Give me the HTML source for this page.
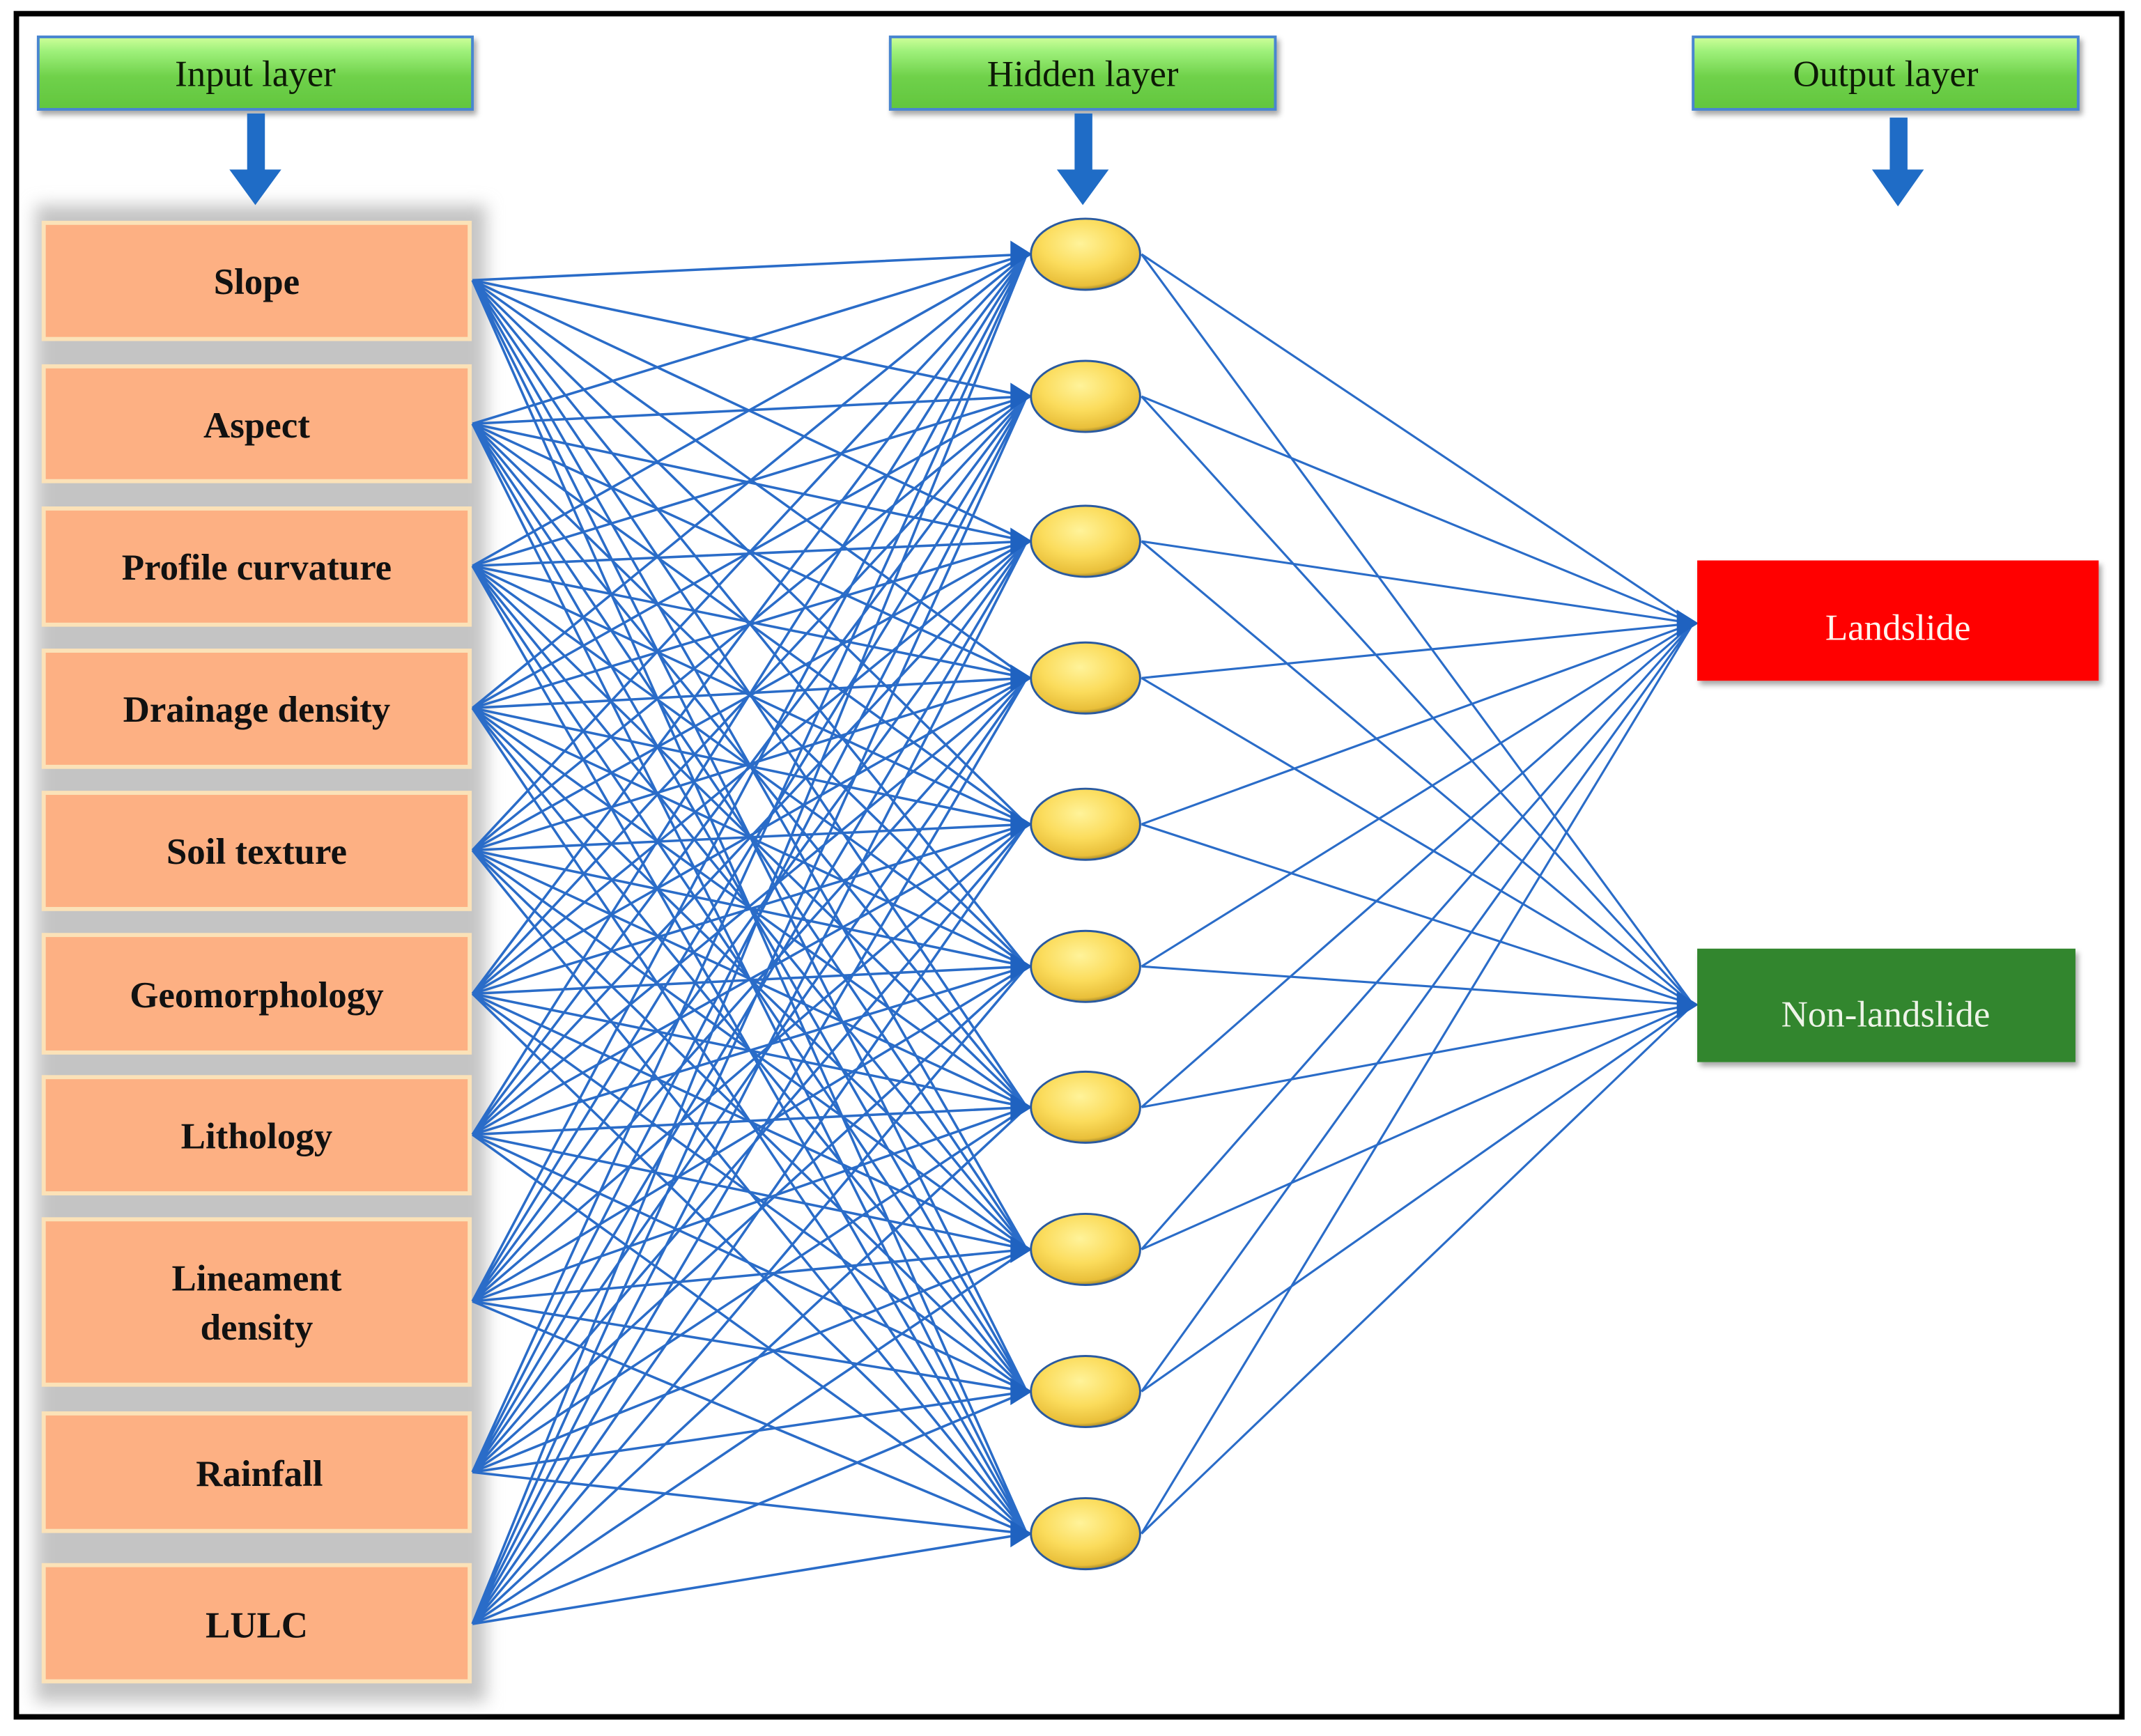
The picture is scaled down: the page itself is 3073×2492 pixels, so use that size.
<!DOCTYPE html>
<html><head><meta charset="utf-8"><style>
html,body{margin:0;padding:0;background:#fff;}
svg{display:block;}
text{font-family:"Liberation Serif",serif;font-weight:bold;}
text.n{font-weight:normal;}
</style></head><body>
<svg width="3073" height="2492" viewBox="0 0 1568 1270" preserveAspectRatio="none" xmlns="http://www.w3.org/2000/svg">
<defs>
<linearGradient id="gr" x1="0" y1="0" x2="0" y2="1"><stop offset="0" stop-color="#cfff9a"/><stop offset="0.2" stop-color="#9ef07a"/><stop offset="0.55" stop-color="#6fd14a"/><stop offset="1" stop-color="#62c63e"/></linearGradient>
<radialGradient id="yl" cx="0.45" cy="0.35" r="0.7"><stop offset="0" stop-color="#fff39a"/><stop offset="0.5" stop-color="#fbdc5c"/><stop offset="0.85" stop-color="#e9bf3a"/><stop offset="1" stop-color="#6a5a20"/></radialGradient>
<filter id="bl" x="-20%" y="-20%" width="140%" height="140%"><feGaussianBlur stdDeviation="6"/></filter>
<filter id="sh" x="-10%" y="-10%" width="130%" height="140%"><feDropShadow dx="2" dy="3" stdDeviation="2" flood-color="#000" flood-opacity="0.35"/></filter>
</defs>
<rect x="0" y="0" width="1568" height="1270" fill="#fff"/>
<rect x="12" y="10" width="1542" height="1246" fill="#fff" stroke="#000" stroke-width="4"/>

<rect x="26" y="150" width="330" height="1095" fill="#c4c4c4" filter="url(#bl)"/>

<g filter="url(#sh)">
<rect x="28" y="27" width="318" height="53" fill="url(#gr)" stroke="#4a86d0" stroke-width="2"/>
<rect x="652" y="27" width="282" height="53" fill="url(#gr)" stroke="#4a86d0" stroke-width="2"/>
<rect x="1240" y="27" width="282" height="53" fill="url(#gr)" stroke="#4a86d0" stroke-width="2"/>
</g>
<text class="n" x="187" y="63" font-size="27" text-anchor="middle" fill="#0d1a06">Input layer</text>
<text class="n" x="793" y="63" font-size="27" text-anchor="middle" fill="#0d1a06">Hidden layer</text>
<text class="n" x="1381" y="63" font-size="27" text-anchor="middle" fill="#0d1a06">Output layer</text>

<g fill="#1f6cc6">
<path d="M181 83h13v41h12l-19 26-19-26h13z"/>
<path d="M787 83h13v41h12l-19 26-19-26h13z"/>
<path d="M1384 86h13v38h12l-19 27-19-27h13z"/>
</g>

<g fill="#fdb083" stroke="#fbe2b8" stroke-width="3">
<rect x="32" y="163" width="312" height="85"/>
<rect x="32" y="268" width="312" height="84"/>
<rect x="32" y="372" width="312" height="85"/>
<rect x="32" y="476" width="312" height="85"/>
<rect x="32" y="580" width="312" height="85"/>
<rect x="32" y="684" width="312" height="86"/>
<rect x="32" y="788" width="312" height="85"/>
<rect x="32" y="892" width="312" height="121"/>
<rect x="32" y="1034" width="312" height="86"/>
<rect x="32" y="1145" width="312" height="85"/>
</g>
<g font-size="27" text-anchor="middle" fill="#111">
<text x="188" y="215">Slope</text>
<text x="188" y="320">Aspect</text>
<text x="188" y="424">Profile curvature</text>
<text x="188" y="528">Drainage density</text>
<text x="188" y="632">Soil texture</text>
<text x="188" y="737">Geomorphology</text>
<text x="188" y="840">Lithology</text>
<text x="188" y="944">Lineament</text>
<text x="188" y="980">density</text>
<text x="190" y="1087">Rainfall</text>
<text x="188" y="1198">LULC</text>
</g>

<path fill="none" stroke="#2a6cc8" stroke-width="1.8" d="
M346 205L752 186M346 205L752 290M346 205L752 396M346 205L752 496M346 205L752 603M346 205L752 707M346 205L752 810M346 205L752 914M346 205L752 1018M346 205L752 1122
M346 310L752 186M346 310L752 290M346 310L752 396M346 310L752 496M346 310L752 603M346 310L752 707M346 310L752 810M346 310L752 914M346 310L752 1018M346 310L752 1122
M346 414L752 186M346 414L752 290M346 414L752 396M346 414L752 496M346 414L752 603M346 414L752 707M346 414L752 810M346 414L752 914M346 414L752 1018M346 414L752 1122
M346 518L752 186M346 518L752 290M346 518L752 396M346 518L752 496M346 518L752 603M346 518L752 707M346 518L752 810M346 518L752 914M346 518L752 1018M346 518L752 1122
M346 622L752 186M346 622L752 290M346 622L752 396M346 622L752 496M346 622L752 603M346 622L752 707M346 622L752 810M346 622L752 914M346 622L752 1018M346 622L752 1122
M346 727L752 186M346 727L752 290M346 727L752 396M346 727L752 496M346 727L752 603M346 727L752 707M346 727L752 810M346 727L752 914M346 727L752 1018M346 727L752 1122
M346 830L752 186M346 830L752 290M346 830L752 396M346 830L752 496M346 830L752 603M346 830L752 707M346 830L752 810M346 830L752 914M346 830L752 1018M346 830L752 1122
M346 952L752 186M346 952L752 290M346 952L752 396M346 952L752 496M346 952L752 603M346 952L752 707M346 952L752 810M346 952L752 914M346 952L752 1018M346 952L752 1122
M346 1077L752 186M346 1077L752 290M346 1077L752 396M346 1077L752 496M346 1077L752 603M346 1077L752 707M346 1077L752 810M346 1077L752 914M346 1077L752 1018M346 1077L752 1122
M346 1188L752 186M346 1188L752 290M346 1188L752 396M346 1188L752 496M346 1188L752 603M346 1188L752 707M346 1188L752 810M346 1188L752 914M346 1188L752 1018M346 1188L752 1122
"/>

<path fill="none" stroke="#2a6cc8" stroke-width="1.6" d="
M836 186L1240 456M836 290L1240 456M836 396L1240 456M836 496L1240 456M836 603L1240 456M836 707L1240 456M836 810L1240 456M836 914L1240 456M836 1018L1240 456M836 1122L1240 456
M836 186L1240 735M836 290L1240 735M836 396L1240 735M836 496L1240 735M836 603L1240 735M836 707L1240 735M836 810L1240 735M836 914L1240 735M836 1018L1240 735M836 1122L1240 735
"/>

<g fill="#1f62c0">
<path d="M740 176l16 10-16 10z"/><path d="M740 280l16 10-16 10z"/><path d="M740 386l16 10-16 10z"/><path d="M740 486l16 10-16 10z"/><path d="M740 593l16 10-16 10z"/>
<path d="M740 697l16 10-16 10z"/><path d="M740 800l16 10-16 10z"/><path d="M740 904l16 10-16 10z"/><path d="M740 1008l16 10-16 10z"/><path d="M740 1112l16 10-16 10z"/>
<path d="M1228 446l16 10-16 10z"/><path d="M1228 725l16 10-16 10z"/>
</g>

<g fill="url(#yl)" stroke="#2a5aa0" stroke-width="1.5">
<ellipse cx="795" cy="186" rx="40" ry="26"/>
<ellipse cx="795" cy="290" rx="40" ry="26"/>
<ellipse cx="795" cy="396" rx="40" ry="26"/>
<ellipse cx="795" cy="496" rx="40" ry="26"/>
<ellipse cx="795" cy="603" rx="40" ry="26"/>
<ellipse cx="795" cy="707" rx="40" ry="26"/>
<ellipse cx="795" cy="810" rx="40" ry="26"/>
<ellipse cx="795" cy="914" rx="40" ry="26"/>
<ellipse cx="795" cy="1018" rx="40" ry="26"/>
<ellipse cx="795" cy="1122" rx="40" ry="26"/>
</g>

<g filter="url(#sh)">
<rect x="1243" y="410" width="294" height="88" fill="#ff0000"/>
<rect x="1243" y="694" width="277" height="83" fill="#32862e"/>
</g>
<text class="n" x="1390" y="468" font-size="27" text-anchor="middle" fill="#fff4ee">Landslide</text>
<text class="n" x="1381" y="751" font-size="27" text-anchor="middle" fill="#eef4e8">Non-landslide</text>
</svg>
</body></html>
